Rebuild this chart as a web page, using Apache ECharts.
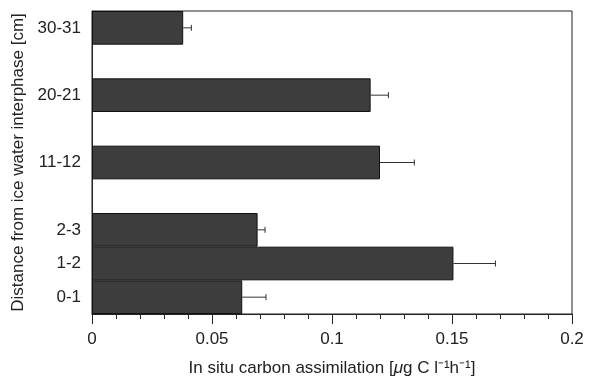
<!DOCTYPE html>
<html><head><meta charset="utf-8">
<script src="https://cdn.jsdelivr.net/npm/echarts@6/dist/echarts.min.js"></script>
<style>html,body{margin:0;padding:0;background:#fff}#c{width:595px;height:382px}</style>
</head><body><div id="c"></div>
<script>
var categories = ['0-1', '1-2', '2-3', ' ', '11-12', '  ', '20-21', '   ', '30-31'];
var values = [0.0626, 0.1506, 0.069, null, 0.12, null, 0.1161, null, 0.038];
var errors = [0.0099, 0.0175, 0.0031, null, 0.0143, null, 0.0074, null, 0.0034];
var xTicks = [0, 0.05, 0.1, 0.15, 0.2];

var errData = [];
for (var i = 0; i < categories.length; i++) {
  if (values[i] != null) errData.push([values[i], i, values[i] + errors[i]]);
}
var FONT = 'Liberation Sans, Arial, sans-serif';
var chart = echarts.init(document.getElementById('c'), null, {renderer: 'canvas'});
chart.setOption({
  animation: false,
  grid: {left: 92, right: 23, top: 11, bottom: 66, show: true, borderColor: '#222', borderWidth: 1},
  xAxis: {
    type: 'value', min: xTicks[0], max: xTicks[xTicks.length - 1], interval: 0.05,
    axisLine: {show: true, lineStyle: {color: '#222', width: 1}},
    axisTick: {show: true, length: 10, lineStyle: {color: '#222'}},
    minorTick: {show: true, splitNumber: 5, length: 5, lineStyle: {color: '#222'}},
    splitLine: {show: false},
    axisLabel: {color: '#222', fontSize: 17, fontFamily: FONT, margin: 17,
      formatter: function (v) { return xTicks.indexOf(Math.round(v * 100) / 100) >= 0 ? String(Math.round(v * 100) / 100) : ''; }},
    name: '{n|In situ carbon assimilation [}{i|μ}{n|g C l⁻¹h⁻¹]}',
    nameLocation: 'middle', nameGap: 46,
    nameTextStyle: {color: '#222', fontSize: 17, fontFamily: FONT,
      rich: {n: {color: '#222', fontSize: 17, fontFamily: FONT},
             i: {color: '#222', fontSize: 17, fontFamily: FONT, fontStyle: 'italic'}}}
  },
  yAxis: {
    type: 'category', data: categories,
    axisLine: {show: true, lineStyle: {color: '#222', width: 1}},
    axisTick: {show: false},
    axisLabel: {color: '#222', fontSize: 17, fontFamily: FONT, margin: 11},
    name: 'Distance from ice water interphase [cm]',
    nameLocation: 'middle', nameGap: 62,
    nameTextStyle: {color: '#222', fontSize: 17, fontFamily: FONT}
  },
  series: [
    {
      type: 'bar', data: values, barCategoryGap: '0%',
      itemStyle: {color: '#3d3d3d', borderColor: '#111', borderWidth: 1}
    },
    {
      type: 'custom', data: errData, z: 3,
      encode: {x: [0, 2], y: 1},
      renderItem: function (params, api) {
        var p0 = api.coord([api.value(0), api.value(1)]);
        var p1 = api.coord([api.value(2), api.value(1)]);
        var st = {stroke: '#333', lineWidth: 1};
        return {type: 'group', children: [
          {type: 'line', shape: {x1: p0[0], y1: p0[1], x2: p1[0], y2: p1[1]}, style: st},
          {type: 'line', shape: {x1: p1[0], y1: p1[1] - 3, x2: p1[0], y2: p1[1] + 3}, style: st}
        ]};
      }
    }
  ]
});
</script></body></html>
